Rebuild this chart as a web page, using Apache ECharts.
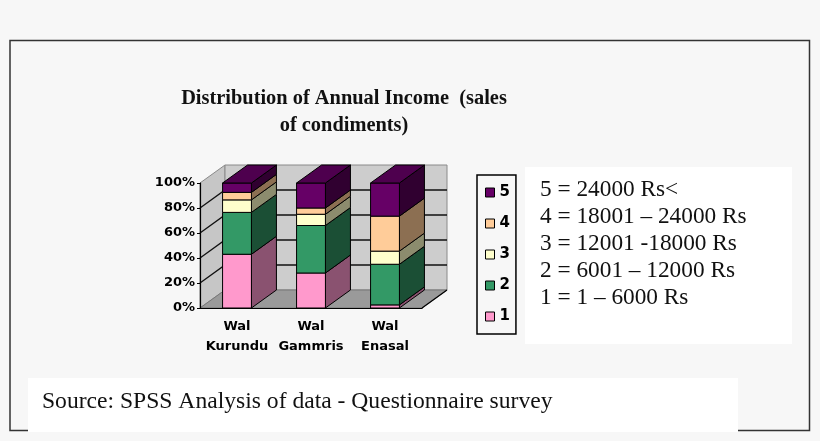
<!DOCTYPE html>
<html>
<head>
<meta charset="utf-8">
<script src="https://cdn.jsdelivr.net/npm/echarts@6/dist/echarts.min.js"></script>
<style>
html,body{margin:0;padding:0;background:#f7f7f7;}
#container{width:820px;height:441px;}
</style>
</head>
<body>
<div id="container"></div>
<script>
// income bands per location, percent of respondents
var categories = ['Wal\nKurundu', 'Wal\nGammris', 'Wal\nEnasal'];
var band1 = [43, 28, 2.5];
var band2 = [33.5, 38, 32.5];
var band3 = [10, 9, 10.5];
var band4 = [6, 5, 28];
var band5 = [7.5, 20, 26.5];
var bandNames = ['1', '2', '3', '4', '5'];
var yTicks = [0, 20, 40, 60, 80, 100];

var keyLines = [
    '5 = 24000 Rs<',
    '4 = 18001 \u2013 24000 Rs',
    '3 = 12001 -18000 Rs',
    '2 = 6001 \u2013 12000 Rs',
    '1 = 1 \u2013 6000 Rs'
];
var sourceText = 'Source: SPSS Analysis of data - Questionnaire survey';

var frontColors = ['#ff99cc', '#339966', '#ffffcc', '#ffcc99', '#660066'];
var sideColors = ['#8a5270', '#1b4f35', '#8c8c6e', '#8c6f52', '#300030'];
var topColor = '#4e004e';
var DX = 25, DY = -18;

var dom = document.querySelector('#container');
var myChart = echarts.init(dom);

var bands = [band1, band2, band3, band4, band5];

// stack the bands: each item is [category, bottom, top]
var stacked = [];
var base = categories.map(function () { return 0; });
bands.forEach(function (b, i) {
    var rows = [];
    b.forEach(function (v, c) {
        rows.push([c, base[c], base[c] + v]);
        base[c] += v;
    });
    stacked.push(rows);
});

var wallItem = function (params, api) {
    var cs = params.coordSys;
    var x0 = cs.x, x1 = cs.x + cs.width;
    var yb = cs.y + cs.height, yt = cs.y;
    var children = [];
    // left wall
    children.push({
        type: 'polygon',
        shape: {points: [[x0, yb], [x0, yt], [x0 + DX, yt + DY], [x0 + DX, yb + DY]]},
        style: {fill: '#c6c6c6', stroke: '#8a8a8a', lineWidth: 1}
    });
    // back wall
    children.push({
        type: 'rect',
        shape: {x: x0 + DX, y: yt + DY, width: x1 - x0, height: yb - yt},
        style: {fill: '#cdcdcd', stroke: '#8a8a8a', lineWidth: 1}
    });
    // floor
    children.push({
        type: 'polygon',
        shape: {points: [[x0, yb], [x1, yb], [x1 + DX, yb + DY], [x0 + DX, yb + DY]]},
        style: {fill: '#9a9a9a', stroke: '#777', lineWidth: 1}
    });
    children.push({
        type: 'line',
        shape: {x1: x1, y1: yb, x2: x1 + DX, y2: yb + DY},
        style: {stroke: '#000', lineWidth: 1.2}
    });
    yTicks.forEach(function (t) {
        if (t === 0 || t === 100) return;
        var y = api.coord([0, t])[1];
        children.push({
            type: 'polyline',
            shape: {points: [[x0, y], [x0 + DX, y + DY], [x1 + DX, y + DY]]},
            style: {stroke: '#111', lineWidth: 1.3, fill: null}
        });
    });
    return {type: 'group', children: children};
};

var makeBarItem = function (idx) {
    return function (params, api) {
        var cat = api.value(0);
        var p0 = api.coord([cat, api.value(1)]);
        var p1 = api.coord([cat, api.value(2)]);
        var w = api.size([1, 0])[0] * 0.39;
        var x0 = p0[0] - w / 2, x1 = p0[0] + w / 2;
        var yb = p0[1], yt = p1[1];
        var children = [];
        children.push({
            type: 'polygon',
            shape: {points: [[x1, yb], [x1, yt], [x1 + DX, yt + DY], [x1 + DX, yb + DY]]},
            style: {fill: sideColors[idx], stroke: '#000', lineWidth: 1}
        });
        children.push({
            type: 'rect',
            shape: {x: x0, y: yt, width: w, height: yb - yt},
            style: {fill: frontColors[idx], stroke: '#000', lineWidth: 1}
        });
        if (idx === bands.length - 1) {
            children.push({
                type: 'polygon',
                shape: {points: [[x0, yt], [x0 + DX, yt + DY], [x1 + DX, yt + DY], [x1, yt]]},
                style: {fill: topColor, stroke: '#000', lineWidth: 1}
            });
        }
        return {type: 'group', children: children};
    };
};

var series = [{
    type: 'custom',
    name: 'walls',
    silent: true,
    renderItem: wallItem,
    data: [[0, 0]],
    encode: {x: 0, y: 1}
}];
stacked.forEach(function (rows, i) {
    series.push({
        type: 'custom',
        name: bandNames[i],
        itemStyle: {color: frontColors[i]},
        renderItem: makeBarItem(i),
        data: rows,
        encode: {x: 0, y: 2}
    });
});

var graphics = [
    {type: 'rect', z: 0, shape: {x: 10, y: 40.5, width: 799.5, height: 390},
        style: {fill: null, stroke: '#333', lineWidth: 1.5}},
    {type: 'rect', z: 1, shape: {x: 525, y: 167, width: 267, height: 177},
        style: {fill: '#ffffff', stroke: null}},
    {type: 'rect', z: 1, shape: {x: 28, y: 378, width: 710, height: 54},
        style: {fill: '#ffffff', stroke: null}},
    {type: 'text', z: 2, left: 42, top: 390,
        style: {text: sourceText, font: '23.6px "Liberation Serif"', fill: '#111'}}
];
keyLines.forEach(function (line, i) {
    graphics.push({
        type: 'text', z: 2, left: 540, top: 178 + i * 27.2,
        style: {text: line, font: '23.3px "Liberation Serif"', fill: '#111'}
    });
});

var option = {
    backgroundColor: '#f7f7f7',
    animation: false,
    title: {
        text: 'Distribution of Annual Income  (sales\nof condiments)',
        left: 344,
        top: 85,
        textAlign: 'center',
        padding: 0,
        textStyle: {
            fontFamily: 'Liberation Serif',
            fontWeight: 'bold',
            fontSize: 20.4,
            lineHeight: 27,
            color: '#111'
        }
    },
    grid: {left: 200, top: 183, width: 222, height: 125},
    legend: {
        orient: 'vertical',
        left: 477,
        top: 175,
        data: ['5', '4', '3', '2', '1'],
        icon: 'rect',
        itemWidth: 9,
        itemHeight: 9,
        itemGap: 16,
        padding: [10, 6, 10, 8],
        borderColor: '#000',
        borderWidth: 1.5,
        itemStyle: {borderColor: '#000', borderWidth: 1},
        selectedMode: false,
        textStyle: {fontFamily: 'DejaVu Sans', fontWeight: 'bold', fontSize: 15, color: '#000'}
    },
    xAxis: {
        type: 'category',
        data: categories,
        z: 5,
        axisLine: {lineStyle: {color: '#000', width: 1.2}},
        axisTick: {length: 4, lineStyle: {color: '#000'}},
        axisLabel: {
            interval: 0,
            margin: 9,
            color: '#000',
            fontFamily: 'DejaVu Sans',
            fontWeight: 'bold',
            fontSize: 13,
            lineHeight: 20
        }
    },
    yAxis: {
        type: 'value',
        min: 0,
        max: 100,
        interval: 20,
        z: 5,
        axisLine: {show: true, lineStyle: {color: '#000', width: 1.2}},
        axisTick: {show: true, length: 3, lineStyle: {color: '#000'}},
        splitLine: {show: false},
        axisLabel: {
            formatter: '{value}%',
            margin: 5,
            color: '#000',
            fontFamily: 'DejaVu Sans',
            fontWeight: 'bold',
            fontSize: 13
        }
    },
    graphic: graphics,
    series: series
};

myChart.setOption(option);
</script>
</body>
</html>
